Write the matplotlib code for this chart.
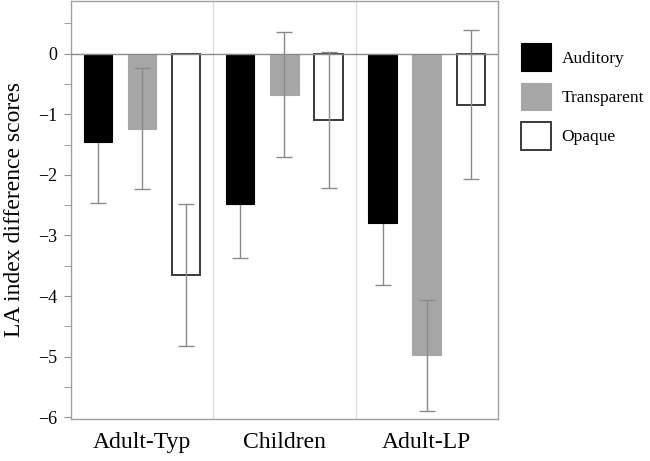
import matplotlib
matplotlib.use('Agg')
import matplotlib.pyplot as plt
from matplotlib.ticker import MultipleLocator
import numpy as np

plt.rcParams['font.family'] = ['Liberation Serif', 'DejaVu Serif']

groups = ['Adult-Typ', 'Children', 'Adult-LP']
conditions = ['Auditory', 'Transparent', 'Opaque']
auditory = [-1.45, -2.48, -2.79]
transparent = [-1.24, -0.68, -4.98]
opaque = [-3.65, -1.09, -0.84]
auditory_err = [1.01, 0.90, 1.03]
transparent_err = [1.0, 1.03, 0.92]
opaque_err = [1.17, 1.12, 1.23]

fills = ['#000000', '#a6a6a6', '#ffffff']
edges = ['#000000', '#a6a6a6', '#3a3a3a']

fig = plt.figure(figsize=(6.5, 4.61), dpi=100)
ax = fig.add_axes([0.109, 0.091, 0.657, 0.907])

x = np.arange(len(groups))
offsets = [-0.31, 0.0, 0.31]
w = 0.2
series = [auditory, transparent, opaque]
errs = [auditory_err, transparent_err, opaque_err]
handles = []
for i in range(3):
    b = ax.bar(x + offsets[i], series[i], w, color=fills[i], edgecolor=edges[i],
               linewidth=1.4 if i == 2 else 0.8, zorder=2, label=conditions[i])
    handles.append(b)
    # black bars hide the upper half of their error bars
    ax.errorbar(x + offsets[i], series[i], yerr=errs[i], fmt='none',
                ecolor='#8a8a8a', elinewidth=1, capsize=6, capthick=1,
                zorder=1.5 if i == 0 else 3)

ax.axhline(0, color='#8a8a8a', lw=1, zorder=4)
for s in [0.5, 1.5]:
    ax.axvline(s, color='#dcdcdc', lw=1, zorder=1)

ax.set_xlim(-0.5, 2.5)
ax.set_ylim(-6.03, 0.87)
ax.set_xticks(x)
ax.set_xticklabels(groups, fontsize=17)
ax.tick_params(axis='x', length=0, pad=9)
ax.yaxis.set_major_locator(MultipleLocator(1))
ax.yaxis.set_minor_locator(MultipleLocator(0.5))
ax.tick_params(axis='y', which='both', length=5, color='#909090', labelsize=13, pad=5)
ax.set_ylabel('LA index difference scores', fontsize=17, labelpad=9)
for sp in ax.spines.values():
    sp.set_color('#a0a0a0')
    sp.set_linewidth(1)

fig.legend(handles=handles, loc='upper left', bbox_to_anchor=(0.777, 0.94),
           frameon=False, fontsize=12.5, handlelength=1.75, handleheight=2.1,
           labelspacing=0.65, handletextpad=0.6)

fig.savefig('out.png', dpi=100)
